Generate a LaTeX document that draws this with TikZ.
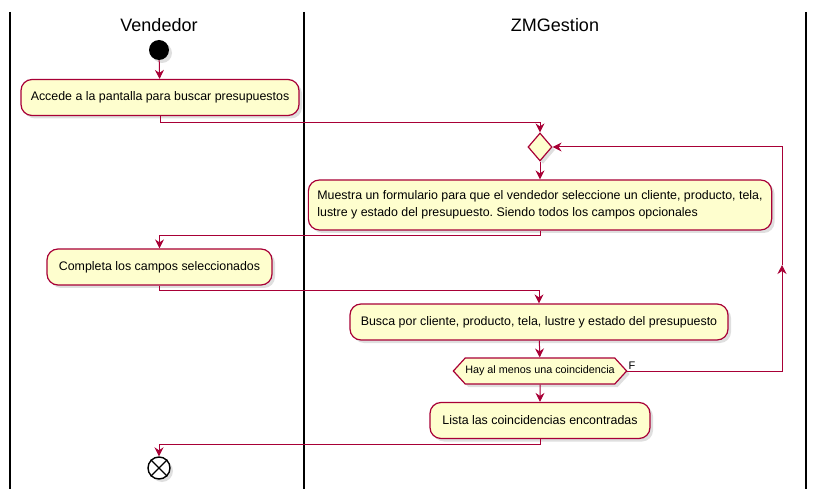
\documentclass[tikz,border=0pt]{standalone}
\usepackage{fontspec}
\setmainfont{Liberation Sans}
\usetikzlibrary{arrows.meta,shapes.geometric,shapes.symbols,shadows}
\definecolor{umlrojo}{HTML}{A80036}
\definecolor{umlcrema}{HTML}{FEFECE}
\frenchspacing
\tikzset{
	sombra/.style={drop shadow={shadow xshift=3pt,shadow yshift=-3pt,fill=black!25}},
	accion/.style={draw=umlrojo,line width=1.2pt,fill=umlcrema,rounded corners=11pt,minimum height=36pt,inner xsep=9pt,font=\fontsize{12.4}{16.5}\selectfont,sombra},
	flecha/.style={draw=umlrojo,line width=1pt,-{Stealth[length=9pt,width=9pt,inset=3pt]}},
	carril/.style={line width=1.3pt},
	titulo/.style={font=\fontsize{18}{21}\selectfont}
}
\begin{document}
\begin{tikzpicture}[x=1pt,y=-1pt]
		\useasboundingbox (0,0) rectangle (817,489);
		% carriles
		\draw[carril] (10,12) -- (10,489);
		\draw[carril] (304,12) -- (304,489);
		\draw[carril] (806,12) -- (806,489);
		\node[titulo] (tVendedor) at (159,25) {Vendedor};
		\node[titulo] (tGestion) at (555,25) {ZMGestion};
		% nodos
		\node[circle,fill=black,minimum size=20pt,inner sep=0pt,sombra] (inicio) at (159,50) {};
		\node[accion,minimum width=278pt] (accede) at (160,97.5) {Accede a la pantalla para buscar presupuestos};
		\node[diamond,draw=umlrojo,line width=1.2pt,fill=umlcrema,minimum width=24pt,minimum height=28pt,inner sep=0pt,sombra] (decision) at (540,147) {};
		\node[accion,minimum width=462pt,minimum height=50pt,align=left] (muestra) at (540,205) {Muestra un formulario para que el vendedor seleccione un cliente, producto, tela,\\lustre y estado del presupuesto. Siendo todos los campos opcionales};
		\node[accion,minimum width=225pt] (completa) at (159.5,267) {Completa los campos seleccionados};
		\node[accion,minimum width=378pt] (busca) at (539,322) {Busca por cliente, producto, tela, lustre y estado del presupuesto};
		\node[signal,signal to=west and east,signal pointer angle=95,draw=umlrojo,line width=1.2pt,fill=umlcrema,minimum height=26pt,inner xsep=0pt,inner ysep=0pt,font=\fontsize{10.8}{13}\selectfont,sombra] (coincide) at (540,371) {Hay al menos una coincidencia};
		\node[font=\fontsize{11}{13}\selectfont,anchor=south west,inner sep=1pt] (etiqF) at (coincide.east) {F};
		\node[accion,minimum width=220pt] (lista) at (540,420.5) {Lista las coincidencias encontradas};
		\node[circle,draw=black,line width=1.4pt,fill=white,minimum size=22pt,inner sep=0pt,sombra] (fin) at (159,468) {};
		\draw[line width=1.4pt] (fin.north west) -- (fin.south east);
		\draw[line width=1.4pt] (fin.north east) -- (fin.south west);
		% conectores
		\coordinate (medio) at (782,265);
		\draw[flecha] (inicio) -- (accede);
		\draw[flecha] (accede.south) -- ++(0,6) -| (decision.north);
		\draw[flecha] (decision) -- (muestra);
		\draw[flecha] (muestra.south) -- ++(0,5) -| (completa.north);
		\draw[flecha] (completa.south) -- ++(0,5) -| (busca.north);
		\draw[flecha] (busca) -- (coincide);
		\draw[flecha] (coincide) -- (lista);
		\draw[flecha] (coincide.east) -| (medio);
		\draw[flecha] (medio) |- (decision.east);
		\draw[flecha] (lista.south) -- ++(0,5) -| (fin.north);
\end{tikzpicture}
\end{document}
